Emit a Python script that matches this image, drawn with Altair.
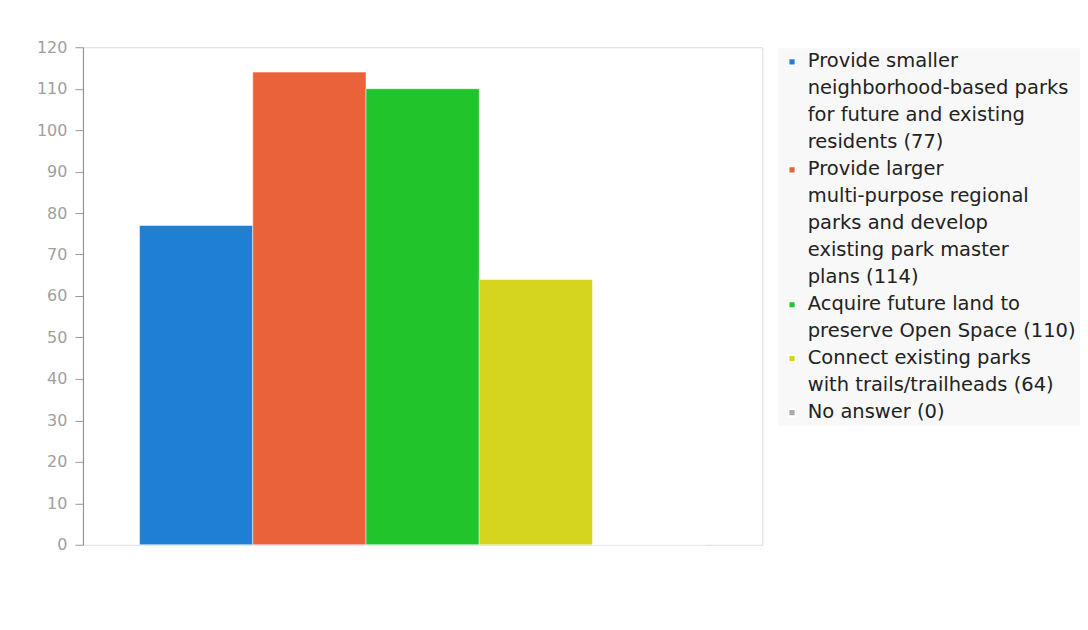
import altair as alt
import pandas as pd

categories = [
    "Provide smaller\nneighborhood-based parks\nfor future and existing\nresidents (77)",
    "Provide larger\nmulti-purpose regional\nparks and develop\nexisting park master\nplans (114)",
    "Acquire future land to\npreserve Open Space (110)",
    "Connect existing parks\nwith trails/trailheads (64)",
    "No answer (0)",
]
values = [77, 114, 110, 64, 0]
colors = ["#1f7fd2", "#e9623a", "#22c42b", "#d5d41f", "#aaaaaa"]
y_ticks = [0, 10, 20, 30, 40, 50, 60, 70, 80, 90, 100, 110, 120]

df = pd.DataFrame({"answer": categories, "count": values})

chart = alt.Chart(df).mark_bar(stroke="white", strokeWidth=0.5).encode(
    x=alt.X("answer:N", sort=categories, axis=None,
            scale=alt.Scale(paddingInner=0, paddingOuter=0.5)),
    y=alt.Y("count:Q", scale=alt.Scale(domain=[0, 120], nice=False),
            axis=alt.Axis(values=y_ticks, title=None, grid=False, domainColor="#888888",
                          tickColor="#999999", tickSize=8, labelColor="#a0a0a0",
                          labelFontSize=16, labelFont="DejaVu Sans", labelPadding=8,
                          labelOffset=10)),
    color=alt.Color("answer:N", sort=categories,
                    scale=alt.Scale(domain=categories, range=colors),
                    legend=alt.Legend(title=None, orient="none", legendX=696, legendY=1,
                                      labelExpr="split(datum.value, '\\n')",
                                      labelFont="DejaVu Sans", labelFontSize=19.5,
                                      labelColor="#222222", labelLimit=400,
                                      symbolType="square", symbolSize=45,
                                      labelOffset=6,
                                      rowPadding=6, fillColor="#f8f8f8",
                                      padding=4, labelBaseline="top")),
).properties(width=680, height=498, padding={"left": 28, "top": 31, "right": 0, "bottom": 5}).configure_view(
    fill="#fafafa", stroke="#e2e2e2"
).configure(
    background="white", style={"guide-label": {"lineHeight": 27, "dy": -10}}
)

chart.save("out.html", embed_options={"renderer": "svg", "actions": False})
